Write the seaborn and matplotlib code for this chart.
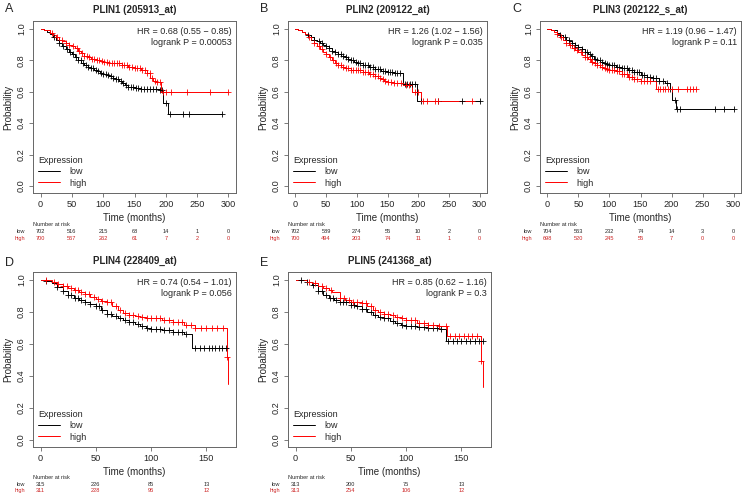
import numpy as np
import pandas as pd
import matplotlib
matplotlib.use('Agg')
import matplotlib.pyplot as plt
import seaborn as sns
from matplotlib.lines import Line2D
from matplotlib import transforms

sns.set_style('white')
plt.rcParams['font.family'] = ['Liberation Sans', 'DejaVu Sans']

# ---- data ----
titles = ['PLIN1 (205913_at)', 'PLIN2 (209122_at)', 'PLIN3 (202122_s_at)',
          'PLIN4 (228409_at)', 'PLIN5 (241368_at)']
letters = ['A', 'B', 'C', 'D', 'E']
hr_text = ['HR = 0.68 (0.55 \u2212 0.85)\nlogrank P = 0.00053',
           'HR = 1.26 (1.02 \u2212 1.56)\nlogrank P = 0.035',
           'HR = 1.19 (0.96 \u2212 1.47)\nlogrank P = 0.11',
           'HR = 0.74 (0.54 \u2212 1.01)\nlogrank P = 0.056',
           'HR = 0.85 (0.62 \u2212 1.16)\nlogrank P = 0.3']

# step curves: times and survival
a_low_t = [0, 5, 10, 15, 20, 25, 30, 35, 40, 45, 50, 55, 60, 65, 70, 75, 80, 85, 90, 95, 100, 105, 110, 115, 120, 125, 130, 135, 140, 150, 160, 170, 180, 190, 196, 204, 289]
a_low_s = [1.0, 0.995, 0.98, 0.965, 0.945, 0.93, 0.91, 0.89, 0.87, 0.855, 0.84, 0.82, 0.80, 0.785, 0.77, 0.76, 0.75, 0.74, 0.73, 0.72, 0.71, 0.705, 0.70, 0.69, 0.68, 0.67, 0.655, 0.64, 0.63, 0.625, 0.62, 0.62, 0.615, 0.61, 0.53, 0.46, 0.46]
a_high_t = [0, 5, 10, 15, 20, 25, 30, 35, 40, 45, 50, 55, 60, 65, 70, 75, 80, 85, 90, 95, 100, 110, 120, 130, 140, 150, 160, 165, 170, 175, 180, 185, 192, 300]
a_high_s = [1.0, 0.995, 0.99, 0.975, 0.96, 0.945, 0.93, 0.92, 0.91, 0.90, 0.89, 0.875, 0.86, 0.845, 0.83, 0.82, 0.81, 0.805, 0.80, 0.795, 0.79, 0.785, 0.78, 0.77, 0.76, 0.75, 0.74, 0.735, 0.72, 0.69, 0.67, 0.66, 0.60, 0.60]
b_low_t = [0, 5, 10, 15, 20, 25, 30, 35, 40, 45, 50, 55, 60, 65, 70, 75, 80, 85, 90, 95, 100, 110, 120, 130, 140, 150, 160, 175, 198, 300]
b_low_s = [1.0, 0.99, 0.98, 0.97, 0.96, 0.945, 0.93, 0.92, 0.91, 0.90, 0.89, 0.875, 0.86, 0.85, 0.84, 0.83, 0.82, 0.81, 0.80, 0.79, 0.78, 0.77, 0.76, 0.745, 0.73, 0.725, 0.72, 0.65, 0.54, 0.54]
b_high_t = [0, 5, 10, 15, 20, 25, 30, 35, 40, 45, 50, 55, 60, 65, 70, 75, 80, 90, 100, 110, 120, 130, 135, 140, 145, 150, 160, 175, 190, 205, 287]
b_high_s = [1.0, 0.99, 0.98, 0.965, 0.95, 0.93, 0.91, 0.89, 0.87, 0.855, 0.84, 0.82, 0.80, 0.785, 0.77, 0.755, 0.75, 0.74, 0.735, 0.725, 0.715, 0.70, 0.69, 0.68, 0.665, 0.66, 0.655, 0.64, 0.60, 0.54, 0.54]
c_low_t = [0, 5, 10, 15, 20, 25, 30, 35, 40, 45, 50, 55, 60, 65, 70, 75, 80, 85, 90, 95, 100, 110, 120, 130, 140, 150, 160, 170, 180, 190, 197, 200, 207, 300]
c_low_s = [1.0, 0.995, 0.99, 0.975, 0.96, 0.945, 0.93, 0.92, 0.91, 0.895, 0.885, 0.87, 0.855, 0.84, 0.825, 0.81, 0.80, 0.79, 0.785, 0.775, 0.77, 0.76, 0.75, 0.74, 0.725, 0.705, 0.695, 0.685, 0.67, 0.655, 0.62, 0.55, 0.49, 0.49]
c_high_t = [0, 5, 10, 15, 20, 25, 30, 35, 40, 45, 50, 55, 60, 65, 70, 75, 80, 85, 90, 95, 100, 110, 120, 130, 140, 150, 165, 175, 240]
c_high_s = [1.0, 0.99, 0.98, 0.965, 0.95, 0.93, 0.91, 0.895, 0.88, 0.865, 0.855, 0.835, 0.82, 0.805, 0.79, 0.78, 0.77, 0.76, 0.75, 0.745, 0.74, 0.73, 0.715, 0.695, 0.68, 0.67, 0.665, 0.62, 0.62]
d_low_t = [0, 5, 10, 15, 20, 25, 30, 35, 40, 45, 50, 55, 60, 65, 70, 75, 80, 85, 90, 95, 100, 110, 120, 130, 137, 170]
d_low_s = [1.0, 0.995, 0.98, 0.955, 0.93, 0.905, 0.89, 0.875, 0.865, 0.85, 0.835, 0.815, 0.79, 0.775, 0.76, 0.75, 0.74, 0.725, 0.71, 0.70, 0.695, 0.685, 0.675, 0.665, 0.575, 0.575]
d_high_t = [0, 5, 10, 15, 20, 25, 30, 35, 40, 45, 50, 55, 60, 65, 70, 75, 80, 85, 90, 95, 100, 110, 120, 130, 140, 169, 170]
d_high_s = [1.0, 1.0, 0.99, 0.975, 0.96, 0.95, 0.94, 0.925, 0.91, 0.895, 0.88, 0.87, 0.865, 0.84, 0.81, 0.795, 0.78, 0.775, 0.77, 0.765, 0.76, 0.75, 0.735, 0.72, 0.70, 0.52, 0.35]
e_low_t = [0, 5, 10, 15, 20, 25, 30, 35, 40, 45, 50, 55, 60, 65, 70, 75, 80, 85, 90, 95, 100, 110, 120, 130, 136, 170]
e_low_s = [1.0, 1.0, 0.99, 0.97, 0.93, 0.905, 0.89, 0.875, 0.865, 0.86, 0.845, 0.835, 0.82, 0.80, 0.78, 0.77, 0.76, 0.745, 0.73, 0.72, 0.715, 0.705, 0.70, 0.695, 0.62, 0.62]
e_high_t = [0, 5, 10, 15, 20, 25, 30, 33, 40, 45, 50, 55, 60, 65, 70, 75, 80, 85, 90, 95, 100, 110, 120, 130, 137, 168, 170]
e_high_s = [1.0, 1.0, 0.99, 0.98, 0.96, 0.95, 0.94, 0.925, 0.89, 0.875, 0.865, 0.86, 0.855, 0.835, 0.81, 0.80, 0.79, 0.78, 0.77, 0.76, 0.75, 0.73, 0.72, 0.71, 0.65, 0.49, 0.33]

# censored times
a_low_c = [22, 30, 36, 42, 47, 52, 56, 60, 64, 68, 72, 76, 80, 84, 88, 92, 96, 100, 104, 108, 112, 116, 120, 124, 128, 132, 136, 140, 144, 148, 152, 156, 160, 165, 170, 175, 180, 185, 190, 194, 201, 207, 228, 237, 289]
a_high_c = [18, 26, 34, 40, 46, 52, 58, 62, 66, 70, 74, 78, 82, 86, 90, 94, 98, 102, 106, 110, 114, 118, 122, 126, 130, 134, 138, 142, 146, 150, 154, 158, 162, 166, 170, 174, 178, 182, 186, 190, 196, 201, 209, 233, 270, 300]
b_low_c = [20, 30, 38, 44, 50, 55, 60, 65, 70, 74, 78, 82, 86, 90, 94, 98, 102, 106, 110, 114, 118, 122, 126, 130, 134, 138, 142, 146, 150, 154, 158, 162, 166, 170, 178, 182, 186, 190, 195, 205, 233, 272, 300]
b_high_c = [22, 30, 38, 44, 50, 56, 62, 66, 70, 74, 78, 82, 86, 90, 94, 98, 102, 106, 110, 114, 118, 122, 126, 130, 134, 138, 142, 146, 150, 155, 160, 165, 172, 180, 185, 195, 200, 208, 215, 228, 232, 287]
c_low_c = [20, 28, 34, 40, 45, 50, 55, 60, 64, 68, 72, 76, 80, 84, 88, 92, 96, 100, 104, 108, 112, 116, 120, 124, 128, 132, 136, 140, 144, 148, 152, 156, 160, 165, 170, 175, 180, 186, 192, 198, 205, 209, 213, 270, 285, 300]
c_high_c = [15, 22, 30, 36, 42, 48, 54, 60, 64, 68, 72, 76, 80, 84, 88, 92, 96, 100, 104, 108, 112, 116, 120, 124, 128, 132, 136, 140, 145, 150, 155, 160, 165, 178, 182, 186, 190, 195, 200, 210, 225, 230, 235, 240]
d_low_c = [5, 15, 20, 25, 28, 31, 34, 37, 40, 45, 50, 53, 56, 60, 64, 68, 72, 76, 80, 84, 88, 92, 96, 100, 104, 108, 112, 116, 120, 124, 128, 132, 140, 144, 148, 152, 155, 158, 161, 164, 168]
d_high_c = [5, 12, 16, 20, 24, 28, 31, 34, 37, 40, 44, 48, 52, 56, 60, 64, 68, 72, 76, 80, 84, 88, 92, 96, 100, 104, 108, 112, 116, 120, 124, 128, 132, 136, 140, 145, 150, 155, 160, 165, 169]
e_low_c = [5, 10, 16, 20, 24, 28, 31, 34, 37, 40, 43, 46, 50, 53, 56, 60, 64, 68, 72, 76, 80, 84, 88, 92, 96, 100, 104, 108, 112, 116, 120, 124, 128, 132, 138, 142, 146, 150, 154, 158, 162, 166, 170]
e_high_c = [12, 18, 24, 28, 32, 40, 44, 48, 52, 56, 60, 64, 68, 72, 76, 80, 84, 88, 92, 96, 100, 104, 108, 112, 116, 120, 124, 130, 136, 140, 144, 148, 152, 156, 160, 164, 168]

# number at risk tables
long_times = [0, 50, 100, 150, 200, 250, 300]
short_times = [0, 50, 100, 150]
a_risk_low = [702, 516, 215, 68, 14, 1, 0]
a_risk_high = [700, 567, 262, 61, 7, 2, 0]
b_risk_low = [702, 589, 274, 55, 10, 2, 0]
b_risk_high = [700, 494, 203, 74, 11, 1, 0]
c_risk_low = [704, 563, 232, 74, 14, 3, 0]
c_risk_high = [698, 520, 245, 55, 7, 0, 0]
d_risk_low = [315, 226, 85, 13]
d_risk_high = [311, 228, 96, 12]
e_risk_low = [313, 200, 75, 13]
e_risk_high = [313, 254, 106, 12]

panels = [
    (a_low_t, a_low_s, a_low_c, a_high_t, a_high_s, a_high_c, long_times, a_risk_low, a_risk_high, 300),
    (b_low_t, b_low_s, b_low_c, b_high_t, b_high_s, b_high_c, long_times, b_risk_low, b_risk_high, 300),
    (c_low_t, c_low_s, c_low_c, c_high_t, c_high_s, c_high_c, long_times, c_risk_low, c_risk_high, 300),
    (d_low_t, d_low_s, d_low_c, d_high_t, d_high_s, d_high_c, short_times, d_risk_low, d_risk_high, 170),
    (e_low_t, e_low_s, e_low_c, e_high_t, e_high_s, e_high_c, short_times, e_risk_low, e_risk_high, 170),
]

W, H = 750, 498
# axes boxes in pixels: left, top, right, bottom
boxes = [(33, 21, 236, 193), (288, 21, 487, 193), (540, 21, 741, 193),
         (33, 272, 236, 447), (288, 272, 491, 447)]

RED = '#FF0000'
GREY = '#666666'

fig = plt.figure(figsize=(7.5, 4.98), dpi=100)


def step_at(t, s, c):
    idx = np.searchsorted(t, c, side='right') - 1
    return np.array(s)[idx]


for i, p in enumerate(panels):
    lt, ls, lc, ht, hs, hc, rt, rl, rh, tmax = p
    l, t, r, b = boxes[i]
    ax = fig.add_axes([l / W, 1 - b / H, (r - l) / W, (b - t) / H])

    for tt, ss, cc, col in [(lt, ls, lc, 'black'), (ht, hs, hc, RED)]:
        sns.lineplot(x=tt, y=ss, drawstyle='steps-post', color=col, lw=0.7, ax=ax, sort=False)
        sns.scatterplot(x=cc, y=step_at(tt, ss, cc), marker='+', color=col, s=16,
                        linewidth=0.6, ax=ax, zorder=3)

    pad = tmax * 0.04
    ax.set_xlim(-pad, tmax + pad)
    ax.set_ylim(-0.045, 1.05)
    ax.set_xticks(rt)
    ax.set_yticks([0, 0.2, 0.4, 0.6, 0.8, 1.0])
    ax.set_yticklabels(['0.0', '0.2', '0.4', '0.6', '0.8', '1.0'], rotation=90, va='center')
    ax.tick_params(direction='out', length=3, width=0.6, color=GREY, labelsize=6.6, pad=2,
                   bottom=True, left=True)
    for sp in ax.spines.values():
        sp.set_color(GREY)
        sp.set_linewidth(0.7)
    ax.set_xlabel('Time (months)', fontsize=7, labelpad=3)
    ax.set_ylabel('Probability', fontsize=7, labelpad=3)
    ax.set_title(titles[i], fontsize=7, fontweight='bold', pad=6)
    ax.text(0.98, 0.965, hr_text[i], transform=ax.transAxes, ha='right', va='top',
            fontsize=6.5, linespacing=1.25)

    handles = [Line2D([], [], color='black', lw=0.7), Line2D([], [], color=RED, lw=0.7)]
    leg = ax.legend(handles, ['low', 'high'], title='Expression', loc='lower left',
                    frameon=False, fontsize=6.5, title_fontsize=6.5, handlelength=2.4,
                    handletextpad=1.0, labelspacing=0.25, borderaxespad=0.2,
                    alignment='left')

    # panel letter
    fig.text((l - 28) / W, 1 - 9 / H if i < 3 else 1 - 263 / H, letters[i],
             fontsize=9, ha='left', va='center')

    # number at risk table
    hpx = b - t
    offs = [31.5, 38.7, 45.7] if i < 3 else [30.7, 37, 43.7]
    tr = transforms.blended_transform_factory(ax.transData, ax.transAxes)
    fs = 4.1
    ax.text(0, -offs[0] / hpx, 'Number at risk', transform=ax.transAxes,
            fontsize=fs, ha='left', va='center')
    ax.text(-8 / (r - l), -offs[1] / hpx, 'low', transform=ax.transAxes,
            fontsize=fs, ha='right', va='center')
    ax.text(-8 / (r - l), -offs[2] / hpx, 'high', transform=ax.transAxes,
            fontsize=fs, ha='right', va='center', color='#CC2222')
    for x, n1, n2 in zip(rt, rl, rh):
        ax.text(x, -offs[1] / hpx, str(n1), transform=tr, fontsize=fs,
                ha='center', va='center')
        ax.text(x, -offs[2] / hpx, str(n2), transform=tr, fontsize=fs,
                ha='center', va='center', color='#CC2222')

fig.savefig('out.png', dpi=100)
